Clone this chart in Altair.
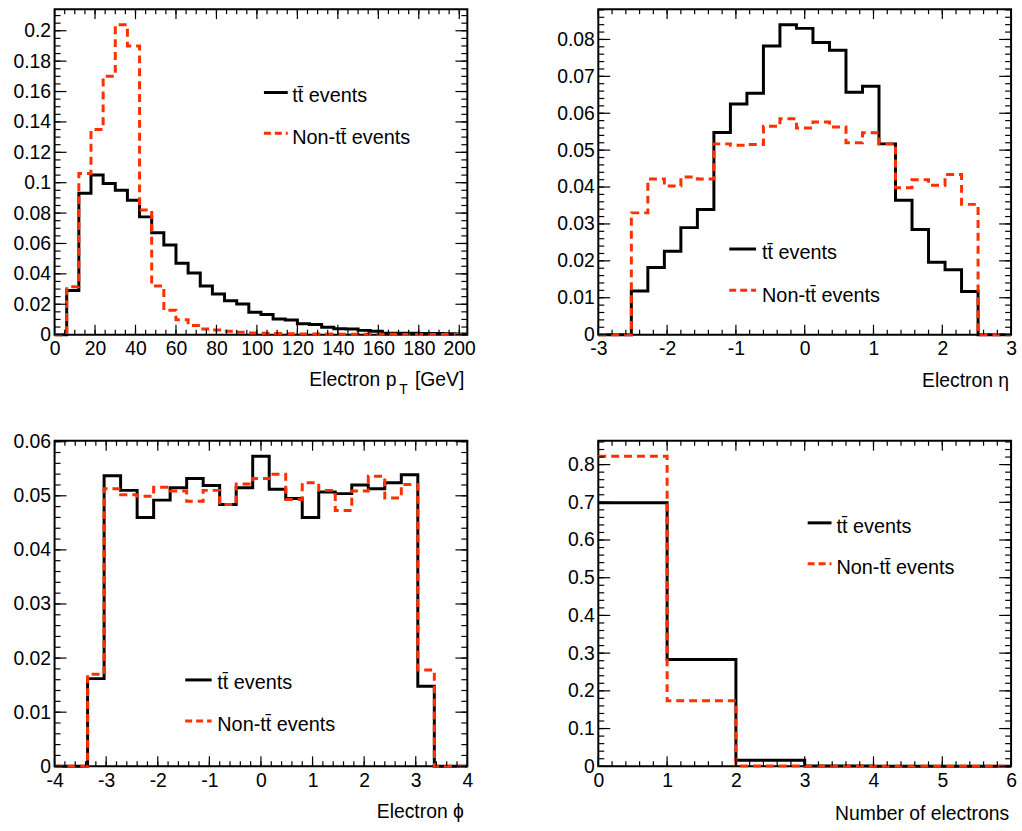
import altair as alt
import pandas as pd

FONT = "Liberation Sans"
RED = "#ff3000"
W, H = 416, 328

# ---------------- data ----------------
PT_EDGES = [0, 6, 12, 18, 24, 30, 36, 42, 48, 54, 60, 66, 72, 78, 84, 90, 96, 102, 108,
            114, 120, 126, 132, 138, 144, 150, 156, 162, 168, 174, 180, 186, 192, 198, 204]
PT_TT = [0.0, 0.029, 0.093, 0.105, 0.0995, 0.095, 0.0885, 0.0775, 0.067, 0.059, 0.047,
         0.0405, 0.032, 0.0267, 0.0223, 0.0201, 0.0148, 0.0132, 0.0103, 0.0097, 0.0072,
         0.0066, 0.0048, 0.0038, 0.0037, 0.0028, 0.0022, 0.0009, 0.0009, 0.001, 0.0008,
         0.0007, 0.0006, 0.0005]
PT_NON = [0.0, 0.0315, 0.106, 0.135, 0.17, 0.204, 0.190, 0.082, 0.032, 0.016, 0.0098,
          0.006, 0.0037, 0.003, 0.0022, 0.0015, 0.0011, 0.0009, 0.0007, 0.0006, 0.0005,
          0.0004, 0.0004, 0.0003, 0.0003, 0.0002, 0.0002, 0.0002, 0.0001, 0.0001, 0.0001,
          0.0001, 0.0001, 0.0001]

ETA_EDGES = [-3.0, -2.76, -2.52, -2.28, -2.04, -1.8, -1.56, -1.32, -1.08, -0.84, -0.6,
             -0.36, -0.12, 0.12, 0.36, 0.6, 0.84, 1.08, 1.32, 1.56, 1.8, 2.04, 2.28, 2.52,
             2.76, 3.0]
ETA_TT = [0, 0, 0.0118, 0.0182, 0.0226, 0.029, 0.0339, 0.0548, 0.0625, 0.0654, 0.0782,
          0.084, 0.083, 0.0792, 0.0771, 0.0657, 0.0673, 0.0517, 0.0364, 0.0285, 0.0196,
          0.0176, 0.0117, 0, 0]
ETA_NON = [0, 0, 0.033, 0.0422, 0.0403, 0.0427, 0.0422, 0.0517, 0.0513, 0.0515, 0.0565,
           0.0585, 0.056, 0.0576, 0.0563, 0.052, 0.0547, 0.0517, 0.0398, 0.042, 0.0405,
           0.0434, 0.0353, 0, 0]

PHI_EDGES = [-4.0, -3.68, -3.36, -3.04, -2.72, -2.4, -2.08, -1.76, -1.44, -1.12, -0.8,
             -0.48, -0.16, 0.16, 0.48, 0.8, 1.12, 1.44, 1.76, 2.08, 2.4, 2.72, 3.04, 3.36,
             3.68, 4.0]
PHI_TT = [0, 0, 0.0162, 0.0537, 0.051, 0.046, 0.0492, 0.0515, 0.0532, 0.0519, 0.0484,
          0.0515, 0.0573, 0.0512, 0.0495, 0.046, 0.0507, 0.0504, 0.052, 0.0513, 0.0524,
          0.0539, 0.0148, 0, 0]
PHI_NON = [0, 0, 0.017, 0.0513, 0.0502, 0.0499, 0.0516, 0.0509, 0.049, 0.051, 0.0484,
           0.0522, 0.0532, 0.054, 0.0493, 0.0524, 0.051, 0.0473, 0.0509, 0.0536, 0.0496,
           0.0521, 0.0178, 0, 0]

NE_EDGES = [0, 1, 2, 3, 4, 5, 6]
NE_TT = [0.699, 0.283, 0.0158, 0.0006, 0.0, 0.0]
NE_NON = [0.822, 0.1735, 0.0008, 0.0001, 0.0, 0.0]

LEGEND_LABELS = ["tt\u0304 events", "Non-tt\u0304 events"]

ONE = pd.DataFrame({"k": [0]})


def tick_values(start, stop, step):
    n = int(round((stop - start) / step))
    return [round(start + i * step, 6) for i in range(n + 1)]


def step_frame(edges, values):
    xs = list(edges[:len(values)]) + [edges[len(values)]]
    ys = list(values) + [values[-1]]
    return pd.DataFrame({"x": xs, "y": ys})


LABEL_EXPR = ("datum.value < 0 ? '-' + format(-datum.value, '~g') "
              ": format(datum.value, '~g')")


def text_layer(text, x, y, size, align="left"):
    return alt.Chart(ONE).mark_text(
        text=text, font=FONT, fontSize=size, align=align, baseline="alphabetic",
        color="black"
    ).encode(x=alt.value(x), y=alt.value(y))


def make_axis(values, pad):
    return alt.Axis(values=values, title=None, ticks=False, domain=False,
                    grid=False, labelFont=FONT, labelFontSize=19.5, labelColor="black",
                    labelPadding=pad, labelFlush=False, labelOverlap=False,
                    labelExpr=LABEL_EXPR)


def panel(edges, tt, non, xmaj, xmin, ymaj, ymin, titles, leg):
    xdom = [edges[0], edges[-1]]
    ymax = 1.05 * max(max(tt), max(non))
    xs = alt.Scale(domain=xdom, nice=False, zero=False)
    ys = alt.Scale(domain=[0, ymax], nice=False, zero=False)

    xmaj_vals = tick_values(*xmaj)
    ymaj_vals = tick_values(*ymaj)
    xaxis = make_axis(xmaj_vals, 5)
    yaxis = make_axis(ymaj_vals, 4)

    def X(f):
        return alt.X(f, scale=xs, axis=xaxis)

    def Y(f):
        return alt.Y(f, scale=ys, axis=yaxis)

    layers = []
    black = alt.Chart(step_frame(edges, tt)).mark_line(
        interpolate="step-after", color="black", strokeWidth=3
    ).encode(x=X("x:Q"), y=Y("y:Q"))
    red = alt.Chart(step_frame(edges, non)).mark_line(
        interpolate="step-after", color=RED, strokeWidth=3, strokeDash=[8, 5]
    ).encode(x=X("x:Q"), y=Y("y:Q"))
    layers += [black, red]

    # inward ticks on all four sides (ROOT style)
    xmin_vals = [v for v in tick_values(*xmin) if v <= xdom[1] + 1e-9]
    ymin_vals = [v for v in tick_values(*ymin) if v <= ymax + 1e-9]
    for vals, L in ((xmin_vals, 5), (xmaj_vals, 10)):
        df = pd.DataFrame({"x": vals})
        base = alt.Chart(df).mark_rule(color="black", strokeWidth=1.2)
        layers.append(base.encode(x=X("x:Q"), y=alt.value(H), y2=alt.value(H - L)))
        layers.append(base.encode(x=X("x:Q"), y=alt.value(0), y2=alt.value(L)))
    for vals, L in ((ymin_vals, 6), (ymaj_vals, 12)):
        df = pd.DataFrame({"y": vals})
        base = alt.Chart(df).mark_rule(color="black", strokeWidth=1.2)
        layers.append(base.encode(y=Y("y:Q"), x=alt.value(0), x2=alt.value(L)))
        layers.append(base.encode(y=Y("y:Q"), x=alt.value(W), x2=alt.value(W - L)))

    # legend
    lx0, lx1, tx, ly1, tb1, ly2, tb2 = leg
    layers.append(alt.Chart(ONE).mark_rule(color="black", strokeWidth=3).encode(
        x=alt.value(lx0), x2=alt.value(lx1), y=alt.value(ly1)))
    layers.append(alt.Chart(ONE).mark_rule(color=RED, strokeWidth=3, strokeDash=[7, 4]).encode(
        x=alt.value(lx0), x2=alt.value(lx1), y=alt.value(ly2)))
    layers.append(text_layer(LEGEND_LABELS[0], tx, tb1, 20))
    layers.append(text_layer(LEGEND_LABELS[1], tx, tb2, 20))

    # axis title pieces
    for (text, x, y, size, align) in titles:
        layers.append(text_layer(text, x, y, size, align))

    return alt.layer(*layers).properties(width=W, height=H)


p1 = panel(PT_EDGES, PT_TT, PT_NON, (0, 200, 20), (0, 200, 5), (0, 0.2, 0.02),
           (0, 0.21, 0.005),
           [("Electron p", 344.5, H + 52, 19.5, "right"),
            ("T", 347.5, H + 60, 14, "left"),
            ("[GeV]", W - 3, H + 52, 19.5, "right")],
           (211, 235, 239.5, 84, 94, 125, 136))

p2 = panel(ETA_EDGES, ETA_TT, ETA_NON, (-3, 3, 1), (-3, 3, 0.2), (0, 0.08, 0.01),
           (0, 0.088, 0.002),
           [("Electron \u03b7", W - 2, H + 53, 19.5, "right")],
           (132, 159, 165, 241.7, 251.7, 283.3, 295))

p3 = panel(PHI_EDGES, PHI_TT, PHI_NON, (-4, 4, 1), (-4, 4, 0.2), (0, 0.06, 0.01),
           (0, 0.06, 0.002),
           [("Electron \u03d5", W - 3.5, H + 52, 19.5, "right")],
           (131.7, 158.3, 164, 241, 250, 282.3, 292.3))

p4 = panel(NE_EDGES, NE_TT, NE_NON, (0, 6, 1), (0, 6, 0.2), (0, 0.8, 0.1),
           (0, 0.86, 0.02),
           [("Number of electrons", W - 2, H + 54, 19.5, "right")],
           (211, 235, 240, 82.7, 92.7, 124, 134.3))

chart = alt.concat(
    p1, p2, p3, p4, columns=2, spacing={"row": 107, "column": 132}, bounds="flush"
).properties(
    padding={"left": 12, "top": 4, "right": 4, "bottom": 4},
    background="white",
).configure_view(stroke="black", strokeWidth=2)

chart.save("out.html", embed_options={"renderer": "svg", "actions": False})
